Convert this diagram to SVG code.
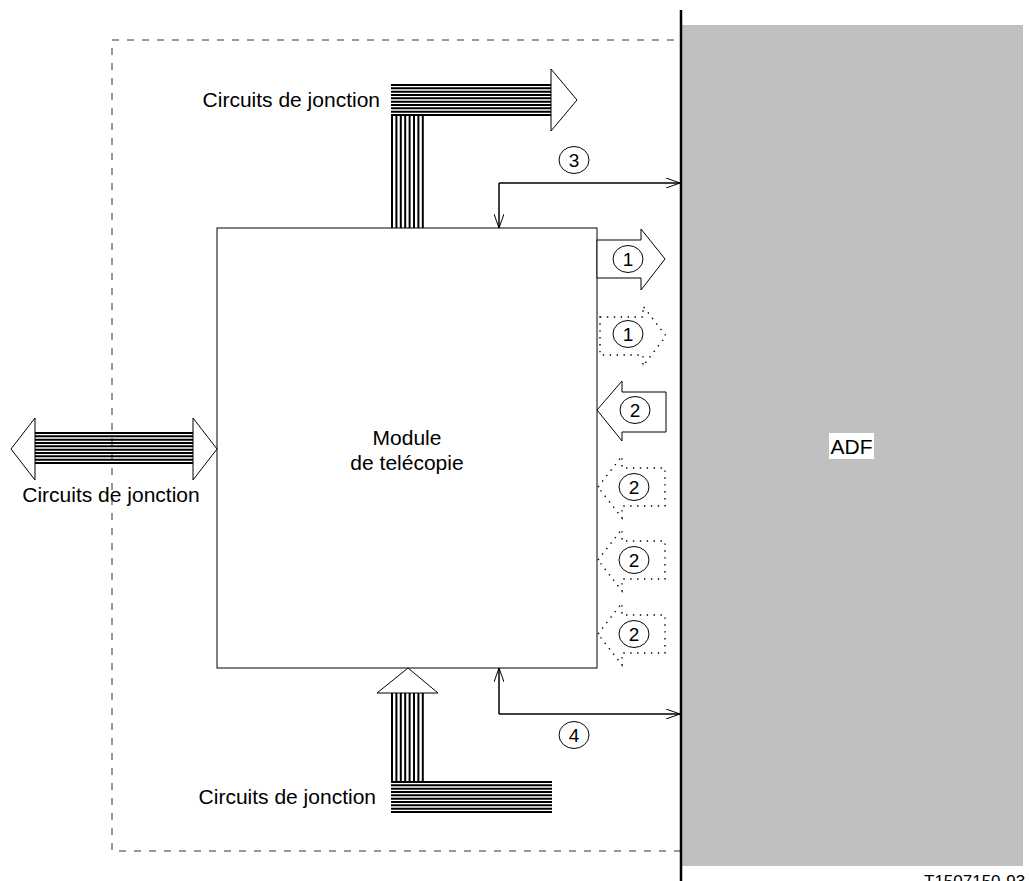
<svg xmlns="http://www.w3.org/2000/svg" width="1029" height="881" viewBox="0 0 1029 881">
<style>
text{font-family:"Liberation Sans",Arial,sans-serif;fill:#000}
.lbl{font-size:21px}
.num{font-size:19px;text-anchor:middle}
.bus{stroke:#000;stroke-width:2;fill:none}
.head{fill:#fff;stroke:#000;stroke-width:1}
.dot{fill:none;stroke:#000;stroke-width:1.4;stroke-dasharray:1.4 5.5}
.conn{fill:none;stroke:#000;stroke-width:1}
.circ{fill:#fff;stroke:#000;stroke-width:1}
</style>
<defs>
<marker id="v" viewBox="0 0 14 10" refX="14" refY="5" markerWidth="14" markerHeight="10" markerUnits="userSpaceOnUse" orient="auto">
<path d="M0,0 L14,5 L0,10" fill="none" stroke="#000" stroke-width="1"/>
</marker>
</defs>
<rect width="1029" height="881" fill="#fff"/>

<g id="adf">
<rect x="682" y="25" width="341" height="841" fill="#c0c0c0"/>
<rect x="829" y="433" width="45" height="26" fill="#fff"/>
<text class="lbl" x="851.5" y="454" text-anchor="middle">ADF</text>
</g>

<g id="boundary">
<rect x="112" y="40" width="569" height="811" fill="none" stroke="#333" stroke-width="1" stroke-dasharray="7 8"/>
<line x1="681" y1="10" x2="681" y2="881" stroke="#000" stroke-width="2.5"/>
</g>

<g id="module">
<rect x="217" y="228" width="380" height="440" fill="#fff" stroke="#000" stroke-width="1"/>
<text class="lbl" x="407" y="445" text-anchor="middle">Module</text>
<text class="lbl" x="407" y="470" text-anchor="middle">de telécopie</text>
</g>

<g id="bus-top">
<path class="bus" d="M391,85H551M391,88.3H551M391,91.7H551M391,95H551M391,98.3H551M391,101.7H551M391,105H551M391,108.3H551M391,111.7H551M391,115H551"/>
<path class="bus" d="M392,115V228M396.4,115V228M400.8,115V228M405.2,115V228M409.6,115V228M414,115V228M418.4,115V228M422.8,115V228"/>
<polygon class="head" points="551,69 577,100 551,131"/>
<text class="lbl" x="380" y="107" text-anchor="end">Circuits de jonction</text>
</g>

<g id="bus-left">
<path class="bus" d="M35,433H193M35,436.3H193M35,439.7H193M35,443H193M35,446.3H193M35,449.7H193M35,453H193M35,456.3H193M35,459.7H193M35,463H193"/>
<polygon class="head" points="35,418 11,449 35,480"/>
<polygon class="head" points="193,418 217,449 193,480"/>
<text class="lbl" x="111" y="502" text-anchor="middle">Circuits de jonction</text>
</g>

<g id="bus-bottom">
<path class="bus" d="M392,693V782M396.4,693V782M400.8,693V782M405.2,693V782M409.6,693V782M414,693V782M418.4,693V782M422.8,693V782"/>
<path class="bus" d="M391,782H552M391,785.3H552M391,788.7H552M391,792H552M391,795.3H552M391,798.7H552M391,802H552M391,805.3H552M391,808.7H552M391,812H552"/>
<polygon class="head" points="377,693 408,668 438,693"/>
<text class="lbl" x="376" y="804" text-anchor="end">Circuits de jonction</text>
</g>

<g id="connectors">
<path class="conn" d="M499,228V183H680" marker-end="url(#v)"/>
<path class="conn" d="M680,183H499V228" marker-end="url(#v)"/>
<path class="conn" d="M680,714H499V668" marker-end="url(#v)"/>
<path class="conn" d="M499,668V714H680" marker-end="url(#v)"/>
</g>

<g id="label-3">
<ellipse class="circ" cx="574" cy="160" rx="15" ry="13.5"/>
<text class="num" x="574" y="167">3</text>
</g>
<g id="label-4">
<ellipse class="circ" cx="574" cy="735" rx="15" ry="13.5"/>
<text class="num" x="574" y="742">4</text>
</g>

<g id="signal-1">
<polygon class="head" points="597,240 641,240 641,229 665,259 641,290 641,278 597,278"/>
<ellipse class="circ" cx="628" cy="259" rx="15" ry="13.5"/>
<text class="num" x="628" y="266">1</text>
</g>
<g id="signal-1-opt">
<polygon class="dot" points="600,317 643,317 643,306 666,336 643,366 643,355 600,355"/>
<ellipse class="circ" cx="628" cy="334" rx="15" ry="13.5"/>
<text class="num" x="628" y="341">1</text>
</g>
<g id="signal-2">
<polygon class="head" points="597,410 622,381 622,392 666,392 666,432 622,432 622,441"/>
<ellipse class="circ" cx="635" cy="410" rx="15" ry="13.5"/>
<text class="num" x="635" y="417">2</text>
</g>
<g id="signal-2-opt-a">
<polygon class="dot" points="598,487 622,456 622,468 665,468 665,506 622,506 622,518"/>
<ellipse class="circ" cx="634" cy="487" rx="15" ry="13.5"/>
<text class="num" x="634" y="494">2</text>
</g>
<g id="signal-2-opt-b">
<polygon class="dot" points="598,560 622,529 622,541 665,541 665,579 622,579 622,591"/>
<ellipse class="circ" cx="634" cy="560" rx="15" ry="13.5"/>
<text class="num" x="634" y="567">2</text>
</g>
<g id="signal-2-opt-c">
<polygon class="dot" points="598,634 622,603 622,615 665,615 665,653 622,653 622,665"/>
<ellipse class="circ" cx="634" cy="634" rx="15" ry="13.5"/>
<text class="num" x="634" y="641">2</text>
</g>

<text x="924" y="887" style="font-size:17px">T1507150-93</text>
</svg>
